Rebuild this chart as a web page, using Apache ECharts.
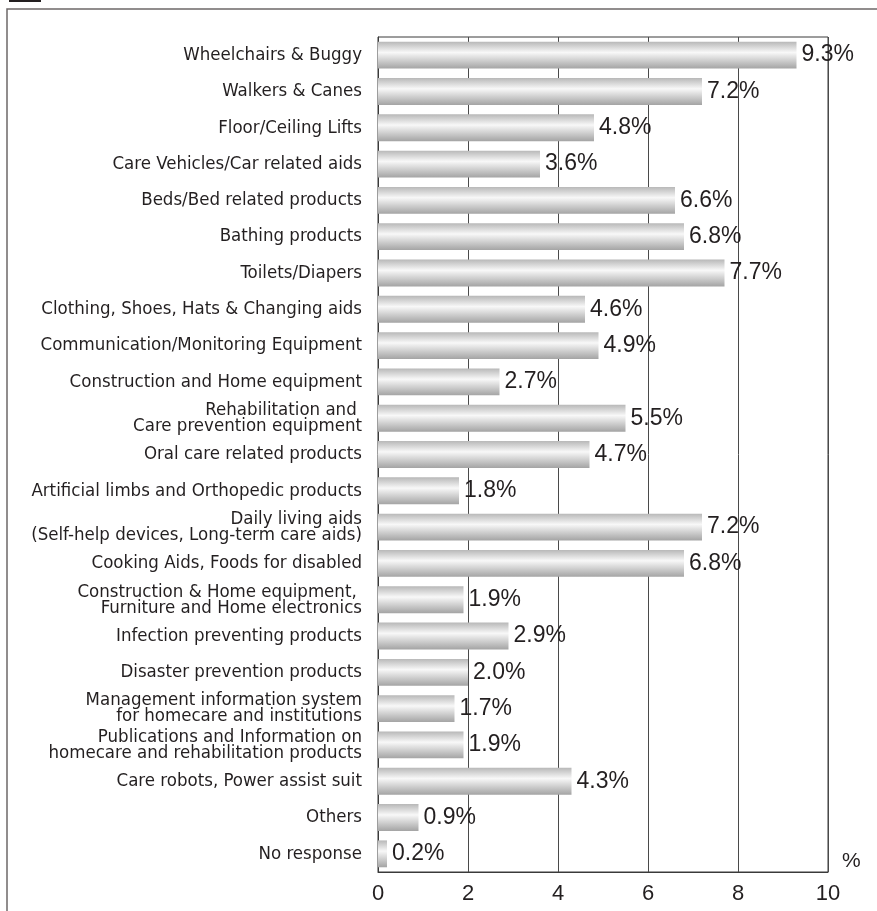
<!DOCTYPE html>
<html><head><meta charset="utf-8">
<script src="https://cdn.jsdelivr.net/npm/echarts@6/dist/echarts.min.js"></script>
<style>html,body{margin:0;padding:0;background:#fff}#c{width:877px;height:911px}</style>
</head><body><div id="c"></div>
<script>
const categories = [
  "Wheelchairs & Buggy",
  "Walkers & Canes",
  "Floor/Ceiling Lifts",
  "Care Vehicles/Car related aids",
  "Beds/Bed related products",
  "Bathing products",
  "Toilets/Diapers",
  "Clothing, Shoes, Hats & Changing aids",
  "Communication/Monitoring Equipment",
  "Construction and Home equipment",
  "Rehabilitation and \nCare prevention equipment",
  "Oral care related products",
  "Artificial limbs and Orthopedic products",
  "Daily living aids\n(Self-help devices, Long-term care aids)",
  "Cooking Aids, Foods for disabled",
  "Construction & Home equipment, \nFurniture and Home electronics",
  "Infection preventing products",
  "Disaster prevention products",
  "Management information system\nfor homecare and institutions",
  "Publications and Information on\nhomecare and rehabilitation products",
  "Care robots, Power assist suit",
  "Others",
  "No response"
];
const values = [9.3, 7.2, 4.8, 3.6, 6.6, 6.8, 7.7, 4.6, 4.9, 2.7, 5.5, 4.7, 1.8, 7.2, 6.8, 1.9, 2.9, 2.0, 1.7, 1.9, 4.3, 0.9, 0.2];
const xTicks = [0, 2, 4, 6, 8, 10];
const unitLabel = "%";

const chart = echarts.init(document.getElementById('c'), null, {renderer: 'canvas'});
const textColor = '#231f20';
chart.setOption({
  animation: false,
  backgroundColor: '#fff',
  grid: {left: 378, top: 37, right: 49, bottom: 39, show: true, borderColor: '#3a3a3a', borderWidth: 1, containLabel: false},
  xAxis: {
    type: 'value', min: xTicks[0], max: xTicks[xTicks.length - 1], interval: 2,
    axisLine: {show: true, lineStyle: {color: '#3a3a3a', width: 1}},
    axisTick: {show: false},
    splitLine: {show: true, lineStyle: {color: '#4a4a4a', width: 1}},
    axisLabel: {color: textColor, fontSize: 22, margin: 11, fontFamily: 'Liberation Sans, Arial, sans-serif'}
  },
  yAxis: {
    type: 'category', data: categories, inverse: true,
    axisLine: {show: true, lineStyle: {color: '#3a3a3a', width: 1}},
    axisTick: {show: false},
    axisLabel: {color: textColor, fontSize: 18.5, lineHeight: 16, margin: 16, fontFamily: '"DejaVu Sans Condensed", sans-serif'}
  },
  series: [{
    type: 'bar', data: values, barWidth: '74%',
    itemStyle: {
      color: new echarts.graphic.LinearGradient(0, 0, 0, 1, [
        {offset: 0, color: '#b8b8b8'},
        {offset: 0.4, color: '#f8f8f8'},
        {offset: 1, color: '#a4a4a4'}
      ])
    },
    label: {
      show: true, position: 'right', distance: 5, color: textColor, fontSize: 23,
      fontFamily: 'Liberation Sans, Arial, sans-serif',
      formatter: p => p.value.toFixed(1) + '%'
    }
  }],
  graphic: [
    {type: 'rect', shape: {x: 9, y: 0, width: 32, height: 2}, style: {fill: '#231f20'}},
    {type: 'polyline', shape: {points: [[7, 911], [7, 9], [877, 9]]}, style: {stroke: '#6e6868', lineWidth: 1.5, fill: null}},
    {type: 'text', left: 842, top: 851, style: {text: unitLabel, fontSize: 21, fill: textColor, fontFamily: 'Liberation Sans, Arial, sans-serif'}}
  ]
});
</script></body></html>
